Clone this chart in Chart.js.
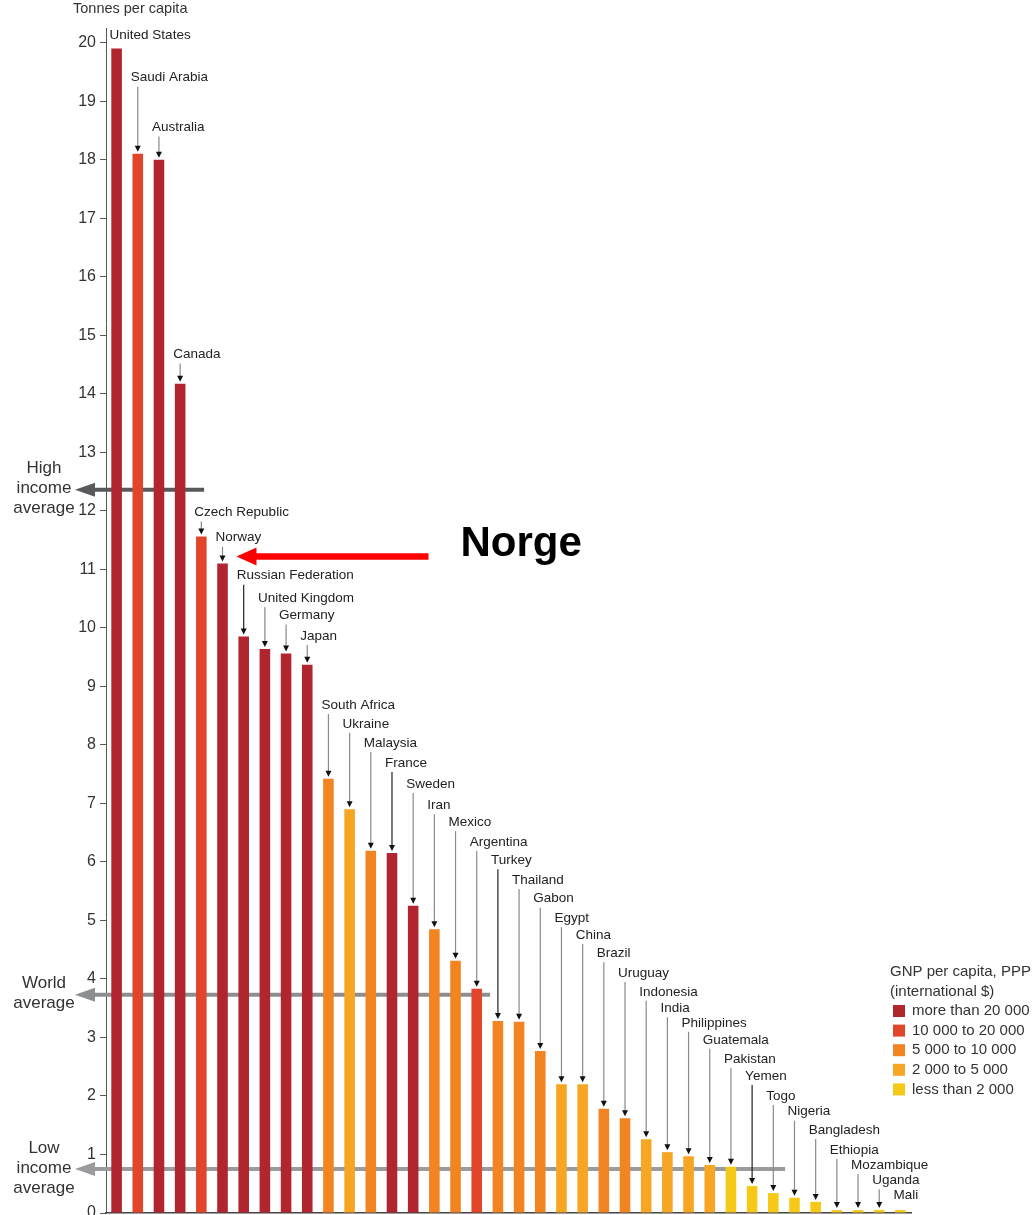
<!DOCTYPE html>
<html>
<head>
<meta charset="utf-8">
<script src="https://cdn.jsdelivr.net/npm/chart.js@4.4.1/dist/chart.umd.min.js"></script>
<style>
  html, body { margin: 0; padding: 0; background: #fff; }
</style>
</head>
<body>
<canvas id="co2" width="1035" height="1215"></canvas>
<script>
// CO2 emissions, tonnes per capita, by country
const countries = ['United States', 'Saudi Arabia', 'Australia', 'Canada', 'Czech Republic', 'Norway',
  'Russian Federation', 'United Kingdom', 'Germany', 'Japan', 'South Africa', 'Ukraine', 'Malaysia',
  'France', 'Sweden', 'Iran', 'Mexico', 'Argentina', 'Turkey', 'Thailand', 'Gabon', 'Egypt', 'China',
  'Brazil', 'Uruguay', 'Indonesia', 'India', 'Philippines', 'Guatemala', 'Pakistan', 'Yemen', 'Togo',
  'Nigeria', 'Bangladesh', 'Ethiopia', 'Mozambique', 'Uganda', 'Mali'];
const tonnes = [19.9, 18.1, 18.0, 14.17, 11.56, 11.1, 9.85, 9.64, 9.56, 9.37, 7.42, 6.9, 6.19,
  6.15, 5.25, 4.85, 4.31, 3.83, 3.28, 3.27, 2.77, 2.2, 2.2,
  1.78, 1.62, 1.26, 1.04, 0.97, 0.82, 0.79, 0.46, 0.34,
  0.26, 0.19, 0.05, 0.05, 0.05, 0.05];
// GNP group of each country (index into groupNames)
const incomeGroup = [0, 1, 0, 0, 1, 0, 0, 0, 0, 0, 2, 3, 2, 0, 0, 2, 2, 1, 2, 2, 2, 3, 3,
  2, 2, 3, 3, 3, 3, 4, 4, 4, 4, 4, 4, 4, 4, 4];
const groupNames = ['more than 20 000', '10 000 to 20 000', '5 000 to 10 000', '2 000 to 5 000', 'less than 2 000'];
const groupColors = ['#b1252f', '#e2462a', '#f28522', '#f6a623', '#f6c918'];
// height (tonnes) where each country name is written
const nameLevel = [20.12, 19.40, 18.55, 14.67, 11.97, 11.54, 10.89, 10.51, 10.21, 9.86, 8.68, 8.36, 8.03,
  7.69, 7.33, 6.97, 6.68, 6.34, 6.03, 5.69, 5.37, 5.04, 4.75, 4.44, 4.10, 3.78, 3.50, 3.25, 2.96,
  2.63, 2.34, 2.00, 1.73, 1.42, 1.08, 0.82, 0.56, 0.31];
const darkLeaders = ['Russian Federation', 'France', 'Turkey', 'Yemen'];

// reference averages
const avgNames = [['High', 'income', 'average'], ['World', 'average'], ['Low', 'income', 'average']];
const avgValues = [12.36, 3.73, 0.75];
const avgReach = [4.13, 17.63, 31.56]; // category position where the line stops
const avgColors = ['#58595b', '#8d8e90', '#9a9b9d'];

const yTicks = [0, 20, 1];
const highlight = 'Norway';
const highlightText = 'Norge';

const FONT = '"Liberation Sans", Arial, sans-serif';
Chart.defaults.font.family = FONT;

const annotate = {
  id: 'annotate',
  beforeDatasetsDraw(chart) {
    const ctx = chart.ctx;
    const x = chart.scales.x, y = chart.scales.y;
    const left = chart.chartArea.left;
    ctx.save();
    avgValues.forEach((v, i) => {
      const py = y.getPixelForValue(v);
      const xEnd = x.getPixelForValue(avgReach[i]);
      ctx.strokeStyle = avgColors[i];
      ctx.fillStyle = avgColors[i];
      ctx.lineWidth = 4;
      ctx.beginPath();
      ctx.moveTo(left - 14, py);
      ctx.lineTo(xEnd, py);
      ctx.stroke();
      ctx.beginPath();
      ctx.moveTo(left - 31, py);
      ctx.lineTo(left - 11, py - 7);
      ctx.lineTo(left - 11, py + 7);
      ctx.closePath();
      ctx.fill();
      // caption on the left
      ctx.fillStyle = '#333';
      ctx.font = '17px ' + FONT;
      ctx.textAlign = 'center';
      ctx.textBaseline = 'middle';
      const lines = avgNames[i];
      const start = lines.length === 3 ? -21 : -11;
      lines.forEach((t, k) => ctx.fillText(t, 44, py + start + k * 20));
    });
    ctx.restore();
  },
  afterDatasetsDraw(chart) {
    const ctx = chart.ctx;
    const x = chart.scales.x, y = chart.scales.y;
    ctx.save();
    // y axis title
    ctx.fillStyle = '#333';
    ctx.font = '14.5px ' + FONT;
    ctx.textAlign = 'left';
    ctx.textBaseline = 'middle';
    ctx.fillText('Tonnes per capita', 73, 9);

    // country names with leaders
    ctx.font = '13.5px ' + FONT;
    countries.forEach((c, i) => {
      const cx = x.getPixelForValue(i);
      const ly = y.getPixelForValue(nameLevel[i]);
      const top = y.getPixelForValue(tonnes[i]);
      ctx.fillStyle = '#222';
      ctx.fillText(c, cx - 7, ly);
      if (top - ly > 18) {
        ctx.strokeStyle = darkLeaders.includes(c) ? '#222' : '#8a8a8a';
        ctx.lineWidth = 1.2;
        ctx.beginPath();
        ctx.moveTo(cx, ly + 9);
        ctx.lineTo(cx, top - 6);
        ctx.stroke();
        ctx.fillStyle = '#111';
        ctx.beginPath();
        ctx.moveTo(cx, top - 2);
        ctx.lineTo(cx - 3, top - 8);
        ctx.lineTo(cx + 3, top - 8);
        ctx.closePath();
        ctx.fill();
      }
    });

    // highlight arrow
    const hi = countries.indexOf(highlight);
    const tipX = x.getPixelForValue(hi) + 14;
    const tipY = y.getPixelForValue(tonnes[hi]) - 7;
    ctx.strokeStyle = '#ff0000';
    ctx.fillStyle = '#ff0000';
    ctx.lineWidth = 6.5;
    ctx.beginPath();
    ctx.moveTo(tipX + 15, tipY);
    ctx.lineTo(tipX + 192, tipY);
    ctx.stroke();
    ctx.beginPath();
    ctx.moveTo(tipX, tipY);
    ctx.lineTo(tipX + 20, tipY - 9);
    ctx.lineTo(tipX + 20, tipY + 9);
    ctx.closePath();
    ctx.fill();
    ctx.fillStyle = '#000';
    ctx.font = 'bold 42px ' + FONT;
    ctx.textBaseline = 'alphabetic';
    ctx.fillText(highlightText, tipX + 224, tipY);

    // legend
    ctx.font = '15px ' + FONT;
    ctx.textBaseline = 'middle';
    ctx.fillStyle = '#333';
    ctx.fillText('GNP per capita, PPP', 890, 972);
    ctx.fillText('(international $)', 890, 992);
    groupNames.forEach((g, k) => {
      const ry = 1011 + k * 19.6;
      ctx.fillStyle = groupColors[k];
      ctx.fillRect(893, ry - 6, 12, 12);
      ctx.fillStyle = '#333';
      ctx.fillText(g, 912, ry);
    });
    ctx.restore();
  }
};

new Chart(document.getElementById('co2'), {
  type: 'bar',
  data: {
    labels: countries,
    datasets: [{
      label: 'Tonnes per capita',
      data: tonnes,
      backgroundColor: incomeGroup.map(g => groupColors[g]),
      barPercentage: 0.5,
      categoryPercentage: 1.0
    }]
  },
  options: {
    responsive: false,
    animation: false,
    layout: { padding: { left: 0, right: 124, top: 28, bottom: 2 } },
    plugins: { legend: { display: false }, tooltip: { enabled: false } },
    scales: {
      x: {
        grid: { display: false },
        border: { display: true, color: '#444', width: 1.5 },
        ticks: { display: false },
        afterFit(s) { s.height = 0; s.paddingLeft = 0; s.paddingRight = 0; }
      },
      y: {
        min: yTicks[0],
        max: 20.25,
        afterFit(s) { s.width = 106; s.paddingTop = 0; s.paddingBottom = 0; },
        grid: { drawOnChartArea: false, drawTicks: true, tickLength: 6, color: '#555' },
        border: { display: true, color: '#555', width: 1 },
        ticks: {
          stepSize: yTicks[2],
          includeBounds: false,
          padding: 4,
          color: '#333',
          font: { size: 16 }
        }
      }
    }
  },
  plugins: [annotate]
});
</script>
</body>
</html>
